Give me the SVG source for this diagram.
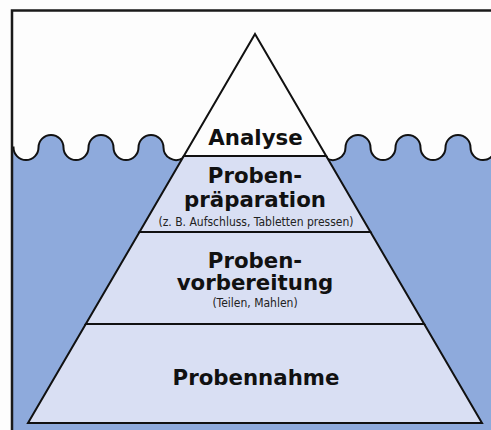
<svg xmlns="http://www.w3.org/2000/svg" width="491" height="430" viewBox="0 0 491 430">
<style>
.sec{stroke:#111;stroke-width:2;stroke-linejoin:miter}
.big{font-family:"DejaVu Sans",Verdana,sans-serif;font-weight:bold;font-size:21.3px;fill:#111;text-anchor:middle}
.small{font-family:"DejaVu Sans Condensed","DejaVu Sans",sans-serif;font-size:12px;fill:#222;text-anchor:middle}
.wave{fill:none;stroke:#111;stroke-width:2}
</style>
<rect x="0" y="0" width="491" height="430" fill="#fdfdfd"/>
<g id="water">
<path fill="#8eaadc" d="M12,147.5 L13.5,147.5 A12.5,12.5 0 0 0 38.5,147.5 A12.5,12.5 0 0 1 63.5,147.5 A12.5,12.5 0 0 0 88.5,147.5 A12.5,12.5 0 0 1 113.5,147.5 A12.5,12.5 0 0 0 138.5,147.5 A12.5,12.5 0 0 1 163.5,147.5 A12.5,12.5 0 0 0 182.8,158 L326.2,158 A12.5,12.5 0 0 0 345.5,147.5 A12.5,12.5 0 0 1 370.5,147.5 A12.5,12.5 0 0 0 395.5,147.5 A12.5,12.5 0 0 1 420.5,147.5 A12.5,12.5 0 0 0 445.5,147.5 A12.5,12.5 0 0 1 470.5,147.5 A12.5,12.5 0 0 0 495.5,147.5 L495,432 L12,432 Z"/>
<path class="wave" d="M12,147.5 L13.5,147.5 A12.5,12.5 0 0 0 38.5,147.5 A12.5,12.5 0 0 1 63.5,147.5 A12.5,12.5 0 0 0 88.5,147.5 A12.5,12.5 0 0 1 113.5,147.5 A12.5,12.5 0 0 0 138.5,147.5 A12.5,12.5 0 0 1 163.5,147.5 A12.5,12.5 0 0 0 182.8,158"/>
<path class="wave" d="M326.2,158 A12.5,12.5 0 0 0 345.5,147.5 A12.5,12.5 0 0 1 370.5,147.5 A12.5,12.5 0 0 0 395.5,147.5 A12.5,12.5 0 0 1 420.5,147.5 A12.5,12.5 0 0 0 445.5,147.5 A12.5,12.5 0 0 1 470.5,147.5 A12.5,12.5 0 0 0 495.5,147.5"/>
</g>
<g id="analyse">
<polygon class="sec" fill="#fdfdfd" points="255,34 326.2,156 183.8,156"/>
<text class="big" x="255.5" y="145">Analyse</text>
</g>
<g id="probenpraeparation">
<polygon class="sec" fill="#d9dff3" points="183.8,156 326.2,156 370.5,232 139.5,232"/>
<text class="big" x="255" y="183">Proben-</text>
<text class="big" x="255" y="207">präparation</text>
<text class="small" x="256" y="225.5">(z. B. Aufschluss, Tabletten pressen)</text>
</g>
<g id="probenvorbereitung">
<polygon class="sec" fill="#d9dff3" points="139.5,232 370.5,232 424.2,324 85.8,324"/>
<text class="big" x="255" y="268">Proben-</text>
<text class="big" x="255" y="290">vorbereitung</text>
<text class="small" x="255" y="307">(Teilen, Mahlen)</text>
</g>
<g id="probennahme">
<polygon class="sec" fill="#d9dff3" points="85.8,324 424.2,324 482,423 28,423"/>
<text class="big" x="256" y="385">Probennahme</text>
</g>
<g id="connectors"/>
<rect x="12" y="10.5" width="490" height="430" fill="none" stroke="#1a1a1a" stroke-width="2.5"/>
</svg>
